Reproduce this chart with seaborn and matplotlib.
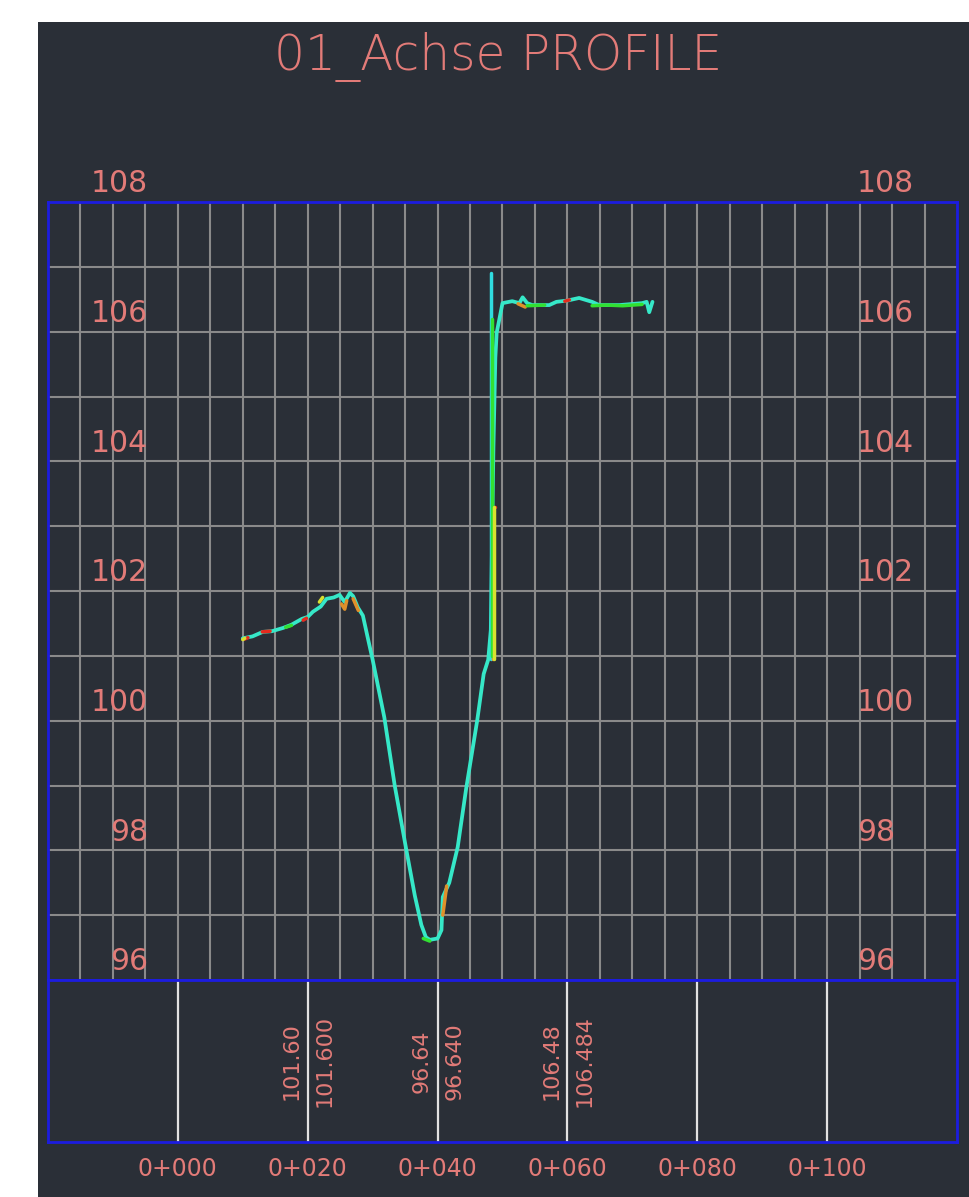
import matplotlib.pyplot as plt
import matplotlib.transforms as mtransforms
from matplotlib.patches import Rectangle
import seaborn as sns

# profile along the axis: station (m) and elevation (m)
station = [10.0, 11.5, 13.1, 14.5, 16.2, 17.5, 19.1, 20.0, 20.8, 22.0, 22.9, 24.0,
           24.9, 25.7, 26.5, 27.0, 27.7, 28.5, 29.2, 30.0, 31.8, 33.4, 35.2, 36.5,
           37.5, 38.2, 38.8, 40.0, 40.6, 40.8, 41.8, 43.1, 44.4, 46.1, 47.1, 47.8,
           48.2, 48.6, 48.9, 49.1, 50.0, 51.5, 52.6, 53.1, 53.8, 54.6, 57.2, 58.3,
           60.0, 61.8, 63.8, 64.9, 68.0, 71.5, 72.2, 72.6, 73.1]
elevation = [101.27, 101.30, 101.37, 101.38, 101.43, 101.48, 101.57, 101.60, 101.68,
             101.76, 101.88, 101.90, 101.94, 101.83, 101.97, 101.92, 101.75, 101.62,
             101.30, 100.94, 100.05, 99.00, 98.00, 97.30, 96.85, 96.66, 96.62, 96.64,
             96.77, 97.28, 97.50, 98.05, 98.95, 100.00, 100.72, 100.94, 101.40, 104.20,
             105.60, 105.98, 106.44, 106.47, 106.44, 106.53, 106.44, 106.41, 106.41,
             106.46, 106.48, 106.52, 106.46, 106.41, 106.41, 106.44, 106.46, 106.30,
             106.46]

# vertical spike at the wall
spike_x = [48.3, 48.3]
spike_y = [100.95, 106.90]

# other surfaces showing through (short pieces)
red_x = [[10.3, 10.8], [13.0, 14.2], [19.3, 19.8], [59.6, 60.3], [48.5, 48.8]]
red_y = [[101.26, 101.28], [101.37, 101.38], [101.55, 101.58], [106.47, 106.49], [103.30, 103.30]]
orange_x = [[25.2, 25.7, 26.0], [27.0, 27.8], [52.4, 53.5], [48.6, 48.6], [40.8, 41.4]]
orange_y = [[101.80, 101.72, 101.85], [101.88, 101.70], [106.43, 106.38], [100.95, 103.30], [97.0, 97.45]]
green_x = [[16.6, 17.5], [53.8, 56.5], [63.8, 66.0, 68.5, 71.5], [37.8, 38.8], [48.4, 48.4]]
green_y = [[101.44, 101.47], [106.40, 106.41], [106.40, 106.41, 106.40, 106.42], [96.64, 96.60], [101.0, 106.2]]
yellow_x = [[21.8, 22.3], [48.7, 48.7], [10.0, 10.3]]
yellow_y = [[101.83, 101.90], [100.95, 103.30], [101.25, 101.27]]

elev_ticks = [96, 98, 100, 102, 104, 106, 108]
chainage = [0, 20, 40, 60, 80, 100]
chainage_labels = ['0+000', '0+020', '0+040', '0+060', '0+080', '0+100']
label_stations = [20, 40, 60]
label_short = ['101.60', '96.64', '106.48']
label_long = ['101.600', '96.640', '106.484']

BG = '#2a2f37'
TXT = '#e27b78'
BLUE = '#1c1ce0'
GRID = '#8a8a8a'

sns.set_style("dark", {"axes.facecolor": BG})
plt.rcParams['font.family'] = ['DejaVu Sans']

fig = plt.figure(figsize=(9.7, 11.97), dpi=100, facecolor='white')
fig.patches.append(Rectangle((38 / 970, 0), 1 - 38 / 970, 1 - 22 / 1197,
                             transform=fig.transFigure, facecolor=BG,
                             edgecolor='none', zorder=-5))

ax = fig.add_axes([48 / 970, 1 - 980 / 1197, 909 / 970, 778 / 1197])
ax2 = fig.add_axes([48 / 970, 1 - 1142 / 1197, 909 / 970, 162 / 1197])

# main profile grid
ax.set_xlim(-20, 120)
ax.set_ylim(96, 108)
for v in range(-15, 120, 5):
    ax.axvline(v, color=GRID, lw=1.5, zorder=1)
for v in range(97, 108):
    ax.axhline(v, color=GRID, lw=1.5, zorder=1)
ax.set_xticks([])
ax.set_yticks([])
ax.grid(False)
for s in ax.spines.values():
    s.set_color(BLUE)
    s.set_linewidth(2)
    s.set_visible(True)

sns.lineplot(x=station, y=elevation, ax=ax, color='#36e8c8', lw=2.7,
             sort=False, estimator=None, zorder=4)
sns.lineplot(x=spike_x, y=spike_y, ax=ax, color='#30dce0', lw=2.5,
             sort=False, estimator=None, zorder=4)
for xs, ys, c in ([(a, b, '#e52a1e') for a, b in zip(red_x, red_y)] +
                  [(a, b, '#e0902a') for a, b in zip(orange_x, orange_y)] +
                  [(a, b, '#32e032') for a, b in zip(green_x, green_y)] +
                  [(a, b, '#d8e030') for a, b in zip(yellow_x, yellow_y)]):
    sns.lineplot(x=xs, y=ys, ax=ax, color=c, lw=2.5, sort=False,
                 estimator=None, zorder=5)

for v in elev_ticks:
    ax.text(-4.6, v + 0.15, str(v), ha='right', va='baseline',
            fontsize=21.5, color=TXT)
    ax.text(104.6, v + 0.15, str(v), ha='left', va='baseline',
            fontsize=21.5, color=TXT)

# data band below
ax2.set_xlim(-20, 120)
ax2.set_ylim(0, 1)
ax2.set_xticks([])
ax2.set_yticks([])
ax2.grid(False)
for s in ax2.spines.values():
    s.set_color(BLUE)
    s.set_linewidth(2)
    s.set_visible(True)
for c in chainage:
    ax2.axvline(c, color='#e2e2e2', lw=1.6)

for st, a, b in zip(label_stations, label_short, label_long):
    ax2.text(st - 2.5, 0.5, a, rotation=90, ha='center', va='center',
             fontsize=16, color=TXT)
    ax2.text(st + 2.6, 0.5, b, rotation=90, ha='center', va='center',
             fontsize=16, color=TXT)

trans = mtransforms.blended_transform_factory(ax2.transData, ax2.transAxes)
for c, lab in zip(chainage, chainage_labels):
    ax2.text(c, -0.165, lab, transform=trans, ha='center', va='center',
             fontsize=17, color=TXT, clip_on=False)

fig.text(498 / 970, 1 - 57 / 1197, '01_Achse PROFILE', ha='center',
         va='center', fontsize=35, fontweight='light', color=TXT)

fig.savefig('out.png', dpi=100, facecolor=fig.get_facecolor())
